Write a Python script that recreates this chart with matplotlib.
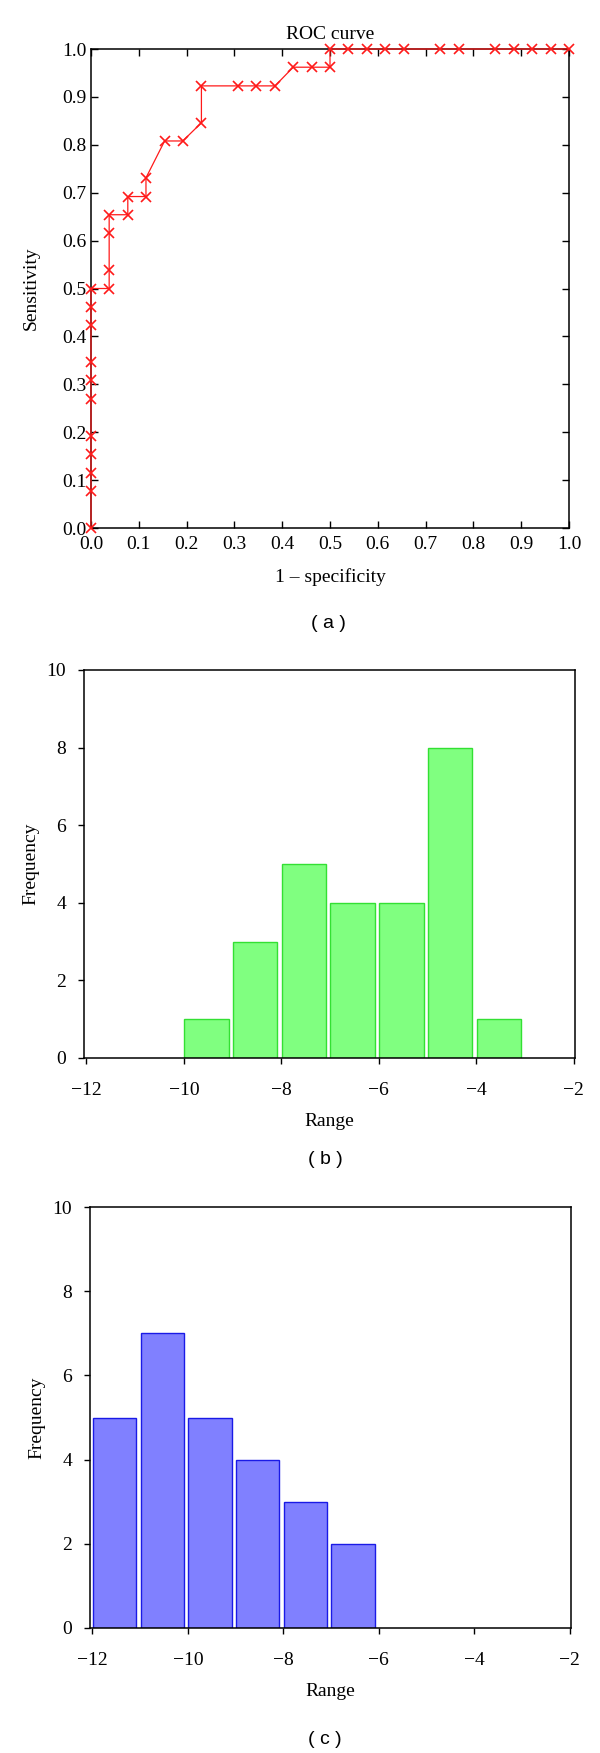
import matplotlib
matplotlib.use("Agg")
import matplotlib.pyplot as plt
import numpy as np

# ROC curve points (1 - specificity, sensitivity)
fpr = [0.0, 0.0, 0.0, 0.0, 0.0, 0.0, 0.0, 0.0, 0.0, 0.0, 0.0,
       0.038, 0.038, 0.038, 0.038, 0.077, 0.077, 0.115, 0.115,
       0.154, 0.192, 0.231, 0.231, 0.308, 0.346, 0.385, 0.423,
       0.462, 0.5, 0.5, 0.538, 0.577, 0.615, 0.654, 0.731, 0.769,
       0.846, 0.885, 0.923, 0.962, 1.0]
tpr = [0.0, 0.077, 0.115, 0.154, 0.192, 0.269, 0.308, 0.346, 0.423, 0.462, 0.5,
       0.5, 0.538, 0.615, 0.654, 0.654, 0.692, 0.692, 0.731,
       0.808, 0.808, 0.846, 0.923, 0.923, 0.923, 0.923, 0.962,
       0.962, 0.962, 1.0, 1.0, 1.0, 1.0, 1.0, 1.0, 1.0,
       1.0, 1.0, 1.0, 1.0, 1.0]

# histogram (b)
b_left = [-10, -9, -8, -7, -6, -5, -4]
b_count = [1, 3, 5, 4, 4, 8, 1]
# histogram (c)
c_left = [-12, -11, -10, -9, -8, -7]
c_count = [5, 7, 5, 4, 3, 2]

serif = ['Liberation Serif', 'DejaVu Serif']
sans = ['Liberation Sans', 'DejaVu Sans']
fs = 14

W, H = 600, 1753
fig = plt.figure(figsize=(W / 100, H / 100), dpi=100)


def px_axes(l, r, t, b):
    return fig.add_axes([l / W, 1 - b / H, (r - l) / W, (b - t) / H])


# ---- (a) ROC ----
ax = px_axes(91, 569, 49, 528)
ax.plot(fpr, tpr, color='#ff1a1a', lw=0.9, marker='x', ms=6.5, mew=1.2, clip_on=False, zorder=3)
ax.set_xlim(0, 1)
ax.set_ylim(0, 1)
ticks = np.arange(0, 1.01, 0.1)
ax.set_xticks(ticks)
ax.set_yticks(ticks)
ax.set_xticklabels(['%.1f' % v for v in ticks], family=serif, fontsize=fs)
ax.set_yticklabels(['%.1f' % v for v in ticks], family=serif, fontsize=fs)
ax.tick_params(direction='in', top=True, right=True, length=5, width=1, pad=3)
ax.tick_params(axis='x', pad=6)
ax.set_xlabel('1 \u2013 specificity', family=serif, fontsize=fs, labelpad=11)
ax.set_ylabel('Sensitivity', family=serif, fontsize=fs, labelpad=16)
ax.set_title('ROC curve', family=serif, fontsize=fs, pad=7)
for s in ax.spines.values():
    s.set_linewidth(1.1)
fig.text(328 / W, 1 - 623 / H, '( a )', family=sans, fontsize=fs, ha='center', va='center')


# ---- histograms ----
def hist_panel(box, lefts, counts, face, edge):
    a = px_axes(*box)
    a.bar(np.array(lefts) + 0.01, counts, width=0.91, align='edge',
          color=face, edgecolor=edge, linewidth=1.0)
    a.set_xlim(-12.05, -1.97)
    a.set_ylim(0, 10)
    a.set_xticks(range(-12, -1, 2))
    a.set_yticks(range(0, 11, 2))
    a.set_xticklabels(['\u2212%d' % -v for v in range(-12, -1, 2)], family=serif, fontsize=fs)
    a.set_yticklabels([str(v) for v in range(0, 11, 2)], family=serif, fontsize=fs)
    a.tick_params(direction='out', length=4, width=1)
    a.tick_params(axis='y', pad=9)
    a.tick_params(axis='x', pad=13)
    a.set_xlabel('Range', family=serif, fontsize=fs, labelpad=10)
    a.set_ylabel('Frequency', family=serif, fontsize=fs, labelpad=5)
    for s in a.spines.values():
        s.set_linewidth(1.1)
    return a


hist_panel((84, 575, 670, 1058), b_left, b_count, '#80ff80', '#33e033')
fig.text(325 / W, 1 - 1160 / H, '( b )', family=sans, fontsize=fs, ha='center', va='center')

hist_panel((90, 571, 1207, 1628), c_left, c_count, '#8080ff', '#1a1ae6')
fig.text(325 / W, 1 - 1740 / H, '( c )', family=sans, fontsize=fs, ha='center', va='center')

fig.savefig('out.png', dpi=100)
